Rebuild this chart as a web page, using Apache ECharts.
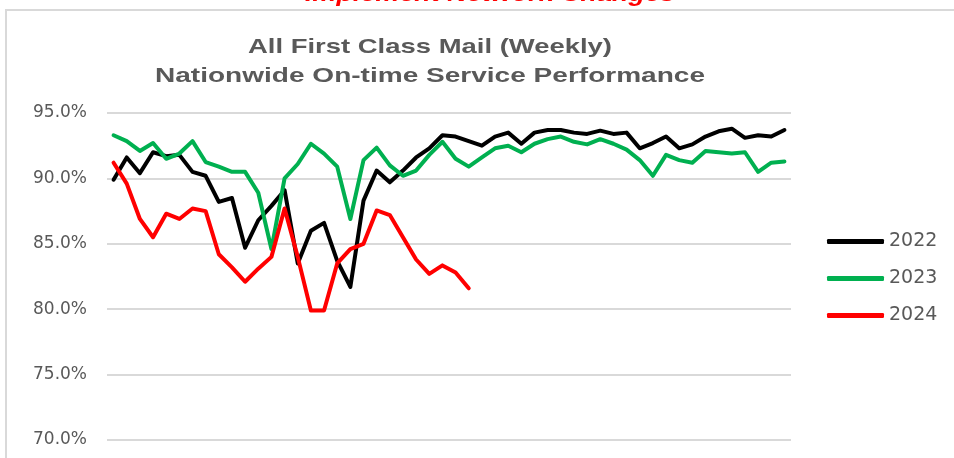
<!DOCTYPE html>
<html>
<head>
<meta charset="utf-8">
<script src="https://cdn.jsdelivr.net/npm/echarts@6/dist/echarts.min.js"></script>
<style>html,body{margin:0;padding:0;background:#fff}#c{width:954px;height:458px}</style>
</head>
<body>
<div id="c"></div>
<script>
const weeks = Array.from({length: 52}, (_, i) => 'W' + (i + 1));
const yTicks = [70, 75, 80, 85, 90, 95];
const titleLines = ['All First Class Mail (Weekly)', 'Nationwide On-time Service Performance'];
const topNote = 'Implement Network Changes';
const s2022 = [89.9, 91.6, 90.4, 92.0, 91.7, 91.8, 90.5, 90.2, 88.2, 88.5,
  84.7, 86.8, 87.9, 89.1, 83.5, 86.0, 86.6, 83.7, 81.7, 88.3,
  90.6, 89.7, 90.6, 91.6, 92.3, 93.3, 93.2, 92.85, 92.5, 93.2,
  93.5, 92.65, 93.5, 93.7, 93.7, 93.5, 93.4, 93.65, 93.4, 93.5,
  92.3, 92.7, 93.2, 92.3, 92.6, 93.2, 93.6, 93.8, 93.1, 93.3,
  93.2, 93.7];
const s2023 = [93.3, 92.85, 92.1, 92.7, 91.5, 91.9, 92.85, 91.25, 90.9, 90.5,
  90.5, 88.9, 84.6, 90.0, 91.1, 92.65, 91.9, 90.9, 86.9, 91.4,
  92.35, 91.0, 90.2, 90.6, 91.8, 92.8, 91.5, 90.9, 91.6, 92.3,
  92.5, 92.0, 92.65, 93.0, 93.2, 92.8, 92.6, 93.0, 92.65, 92.2,
  91.4, 90.2, 91.8, 91.4, 91.2, 92.1, 92.0, 91.9, 92.0, 90.5,
  91.2, 91.3];
const s2024 = [91.2, 89.6, 86.9, 85.5, 87.3, 86.9, 87.7, 87.5, 84.2, 83.2,
  82.1, 83.1, 84.0, 87.7, 84.0, 79.9, 79.9, 83.5, 84.6, 85.0,
  87.55, 87.2, 85.5, 83.8, 82.7, 83.35, 82.8, 81.6];
const seriesNames = ['2022', '2023', '2024'];
const seriesColors = ['#000000', '#00B050', '#FF0000'];

const titleFont = 'bold 21px "Liberation Sans"';
const ctx = document.createElement('canvas').getContext('2d');
const scaledText = (text, cx, cy, targetW, font, fill) => {
  ctx.font = font;
  const w = ctx.measureText(text).width;
  return {type: 'text', x: cx, y: cy, scaleX: targetW / w, scaleY: 1,
    style: {text, font, fill, textAlign: 'center', textVerticalAlign: 'middle'}, z: 10};
};

const chart = echarts.init(document.getElementById('c'), null, {renderer: 'canvas'});
const mk = (name, data, color) => ({
  name, type: 'line', data, showSymbol: false, symbol: 'none',
  lineStyle: {color, width: 4, join: 'round', cap: 'round'},
  itemStyle: {color}, z: 3
});
chart.setOption({
  animation: false,
  backgroundColor: '#ffffff',
  graphic: [
    {type: 'rect', shape: {x: 6, y: 10, width: 1000, height: 500}, style: {fill: 'none', stroke: '#d9d9d9', lineWidth: 2}, z: 0},
    scaledText(topNote, 490, -5, 370, 'italic bold 22px "Liberation Sans"', '#FF0000'),
    scaledText(titleLines[0], 430, 47, 364, titleFont, '#595959'),
    scaledText(titleLines[1], 430, 76, 550, titleFont, '#595959')
  ],
  legend: {
    orient: 'vertical', left: 822, top: 227,
    itemWidth: 57, itemHeight: 5, itemGap: 18,
    icon: 'roundRect',
    data: seriesNames,
    textStyle: {fontFamily: 'DejaVu Sans', fontSize: 19, color: '#595959', padding: [0, 0, 0, 0]}
  },
  grid: {left: 107, right: 163, top: 113, bottom: 18},
  xAxis: {
    type: 'category', data: weeks, boundaryGap: true,
    axisLine: {show: false}, axisTick: {show: false}, axisLabel: {show: false}, splitLine: {show: false}
  },
  yAxis: {
    type: 'value', min: yTicks[0], max: yTicks[yTicks.length - 1], interval: 5,
    axisLine: {show: false}, axisTick: {show: false},
    axisLabel: {formatter: v => v.toFixed(1) + '%', fontFamily: 'DejaVu Sans', fontSize: 17, color: '#595959', margin: 20},
    splitLine: {lineStyle: {color: '#d9d9d9', width: 2}}
  },
  series: [
    mk(seriesNames[0], s2022, seriesColors[0]),
    mk(seriesNames[1], s2023, seriesColors[1]),
    mk(seriesNames[2], s2024, seriesColors[2])
  ]
});
</script>
</body>
</html>
